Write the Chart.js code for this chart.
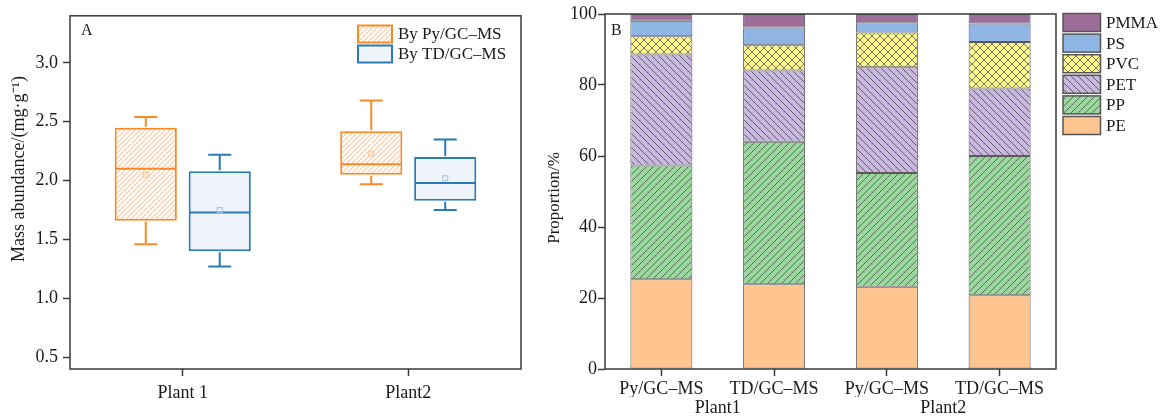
<!DOCTYPE html>
<html><head><meta charset="utf-8">
<script src="https://cdn.jsdelivr.net/npm/chart.js@4.4.1/dist/chart.umd.min.js"></script>
<style>
html,body{margin:0;padding:0;background:#fff;}
#wrap{position:relative;width:1160px;height:416px;overflow:hidden;background:#fff;}
canvas{position:absolute;top:0;}
#cA{left:0;} #cB{left:540px;}
</style></head><body>
<div id="wrap"><canvas id="cA" width="540" height="416"></canvas><canvas id="cB" width="620" height="416"></canvas></div>
<script>
// ---------- Panel A data ----------
const plants = ['Plant 1', 'Plant2'];
const methodsA = ['By Py/GC\u2013MS', 'By TD/GC\u2013MS'];
const pyMin  = [1.46, 1.97];
const pyQ1   = [1.66, 2.05];
const pyMed  = [2.10, 2.14];
const pyMean = [2.05, 2.23];
const pyQ3   = [2.45, 2.42];
const pyMax  = [2.54, 2.68];
const tdMin  = [1.27, 1.75];
const tdQ1   = [1.40, 1.83];
const tdMed  = [1.73, 1.98];
const tdMean = [1.75, 2.02];
const tdQ3   = [2.08, 2.20];
const tdMax  = [2.22, 2.35];
const yTicksA = [0.5, 1.0, 1.5, 2.0, 2.5, 3.0];
const yTitleA = 'Mass abundance/(mg\u00B7g\u207B\u00B9)';

// ---------- Panel B data ----------
const methodsB = ['Py/GC\u2013MS', 'TD/GC\u2013MS', 'Py/GC\u2013MS', 'TD/GC\u2013MS'];
const plantGroups = ['Plant1', 'Plant2'];
const polymers = ['PE', 'PP', 'PET', 'PVC', 'PS', 'PMMA'];
const PE   = [25.3, 23.9, 23.2, 20.8];
const PP   = [32.0, 40.1, 32.0, 39.2];
const PET  = [31.3, 20.1, 29.8, 19.0];
const PVC  = [5.1, 7.1, 9.8, 13.1];
const PS   = [4.4, 5.0, 2.9, 5.2];
const PMMA = [1.9, 3.8, 2.3, 2.7];
const yTicksB = [0, 20, 40, 60, 80, 100];
const yTitleB = 'Proportion/%';

const FONT = "'Liberation Serif', 'Times New Roman', serif";
Chart.defaults.font.family = FONT;
Chart.defaults.color = '#1a1a1a';
const AXIS = '#3a3a3a';
const ORANGE = '#F98B26';
const BLUE = '#2A7AB8';

function hatch(ctx, bg, line, size, dirs, lw) {
  const c = document.createElement('canvas'); c.width = size; c.height = size;
  const g = c.getContext('2d');
  g.fillStyle = bg; g.fillRect(0, 0, size, size);
  g.strokeStyle = line; g.lineWidth = lw;
  dirs.forEach(d => {
    g.beginPath();
    if (d === '/') {
      g.moveTo(-1, size + 1); g.lineTo(size + 1, -1);
      g.moveTo(-size / 2 - 1, size / 2 + 1); g.lineTo(size / 2 + 1, -size / 2 - 1);
      g.moveTo(size / 2 - 1, size * 1.5 + 1); g.lineTo(size * 1.5 + 1, size / 2 - 1);
    } else {
      g.moveTo(-1, -1); g.lineTo(size + 1, size + 1);
      g.moveTo(-size / 2 - 1, size / 2 - 1); g.lineTo(size / 2 + 1, size * 1.5 + 1);
      g.moveTo(size / 2 - 1, -size / 2 - 1); g.lineTo(size * 1.5 + 1, size / 2 + 1);
    }
    g.stroke();
  });
  return ctx.createPattern(c, 'repeat');
}

const frame = {
  id: 'frame',
  afterDraw(chart) {
    const a = chart.chartArea, ctx = chart.ctx;
    ctx.save(); ctx.strokeStyle = AXIS; ctx.lineWidth = 1.5;
    ctx.strokeRect(a.left, a.top, a.right - a.left, a.bottom - a.top);
    ctx.restore();
  }
};

function yTitle(text, size, cx, cy, letter, lx, ly) {
  return {
    id: 'ytitle',
    afterDraw(chart) {
      const ctx = chart.ctx;
      ctx.save();
      ctx.fillStyle = '#1a1a1a';
      ctx.font = size + 'px ' + FONT;
      ctx.translate(cx, cy); ctx.rotate(-Math.PI / 2);
      ctx.textAlign = 'center'; ctx.textBaseline = 'middle';
      ctx.fillText(text, 0, 0);
      ctx.restore();
      ctx.save();
      ctx.fillStyle = '#1a1a1a'; ctx.font = '16px ' + FONT;
      ctx.textAlign = 'left'; ctx.textBaseline = 'alphabetic';
      ctx.fillText(letter, lx, ly);
      ctx.restore();
    }
  };
}

// ---------- Panel A ----------
const ctxA = document.getElementById('cA').getContext('2d');
const patOrange = hatch(ctxA, '#ffffff', '#FCC9A0', 5, ['/'], 1.2);
const boxSets = [
  {min: pyMin, q1: pyQ1, med: pyMed, mean: pyMean, q3: pyQ3, max: pyMax, color: ORANGE, meanColor: '#F9C08E'},
  {min: tdMin, q1: tdQ1, med: tdMed, mean: tdMean, q3: tdQ3, max: tdMax, color: BLUE, meanColor: '#9CC4E6'}
];
const boxExtras = {
  id: 'boxExtras',
  afterDatasetsDraw(chart) {
    const ctx = chart.ctx, y = chart.scales.y;
    boxSets.forEach((s, di) => {
      const meta = chart.getDatasetMeta(di);
      meta.data.forEach((bar, i) => {
        const x = bar.x, w = bar.width, cap = 23;
        const py = v => y.getPixelForValue(v);
        ctx.save();
        ctx.strokeStyle = s.color; ctx.lineWidth = 2;
        ctx.beginPath();
        ctx.moveTo(x - w / 2 + 1, py(s.med[i])); ctx.lineTo(x + w / 2 - 1, py(s.med[i]));
        ctx.moveTo(x, py(s.q3[i]) - 1); ctx.lineTo(x, py(s.max[i]));
        ctx.moveTo(x - cap / 2, py(s.max[i])); ctx.lineTo(x + cap / 2, py(s.max[i]));
        ctx.moveTo(x, py(s.q1[i]) + 1); ctx.lineTo(x, py(s.min[i]));
        ctx.moveTo(x - cap / 2, py(s.min[i])); ctx.lineTo(x + cap / 2, py(s.min[i]));
        ctx.stroke();
        ctx.strokeStyle = s.meanColor; ctx.lineWidth = 1;
        ctx.strokeRect(x - 2.5, py(s.mean[i]) - 2.5, 5, 5);
        ctx.restore();
      });
    });
  }
};
const legendA = {
  id: 'legendA',
  afterDraw(chart) {
    const ctx = chart.ctx;
    chart.data.datasets.forEach((ds, i) => {
      const bx = 358, by = 25.5 + i * 20, bw = 34, bh = 17;
      ctx.save();
      ctx.fillStyle = ds.backgroundColor; ctx.fillRect(bx, by, bw, bh);
      ctx.strokeStyle = ds.borderColor; ctx.lineWidth = 2; ctx.strokeRect(bx, by, bw, bh);
      ctx.fillStyle = '#1a1a1a'; ctx.font = '17px ' + FONT;
      ctx.textAlign = 'left'; ctx.textBaseline = 'middle';
      ctx.fillText(ds.label, 398, by + bh / 2 + 1);
      ctx.restore();
    });
  }
};

new Chart(ctxA, {
  type: 'bar',
  data: {
    labels: plants,
    datasets: [
      {label: methodsA[0], data: plants.map((_, i) => [pyQ1[i], pyQ3[i]]), backgroundColor: patOrange, borderColor: ORANGE, borderWidth: 2, borderSkipped: false},
      {label: methodsA[1], data: plants.map((_, i) => [tdQ1[i], tdQ3[i]]), backgroundColor: '#EEF4FA', borderColor: BLUE, borderWidth: 2, borderSkipped: false}
    ]
  },
  options: {
    responsive: false, animation: false, devicePixelRatio: 1,
    categoryPercentage: 0.656, barPercentage: 0.84,
    layout: {padding: {left: 0, right: 19, top: 15, bottom: 0}},
    plugins: {legend: {display: false}, tooltip: {enabled: false}},
    scales: {
      x: {
        grid: {display: true, offset: false, drawOnChartArea: false, drawTicks: true, tickLength: 7, tickColor: AXIS, tickWidth: 1.5},
        border: {display: false},
        ticks: {font: {size: 18}, padding: 6, color: '#1a1a1a'},
        afterFit: s => { s.height = 47; }
      },
      y: {
        min: 0.4, max: 3.4,
        afterBuildTicks: s => { s.ticks = yTicksA.map(v => ({value: v})); },
        grid: {display: true, drawOnChartArea: false, drawTicks: true, tickLength: 7, tickColor: AXIS, tickWidth: 1.5},
        border: {display: false},
        ticks: {font: {size: 18}, padding: 5, color: '#1a1a1a', callback: v => Number(v).toFixed(1)},
        afterFit: s => { s.width = 70; }
      }
    }
  },
  plugins: [boxExtras, frame, legendA, yTitle(yTitleA, 18, 19, 169, 'A', 81, 35)]
});

// ---------- Panel B ----------
const ctxB = document.getElementById('cB').getContext('2d');
const fills = {
  PE: '#FFC591',
  PP: hatch(ctxB, '#9AD79C', '#5f6d60', 7, ['/'], 1),
  PET: hatch(ctxB, '#C8B8DE', '#615b6e', 7, ['\\'], 1),
  PVC: hatch(ctxB, '#FBF58F', '#6a6a50', 8, ['/', '\\'], 0.9),
  PS: '#8EB5E4',
  PMMA: '#9C6E99'
};
const seriesB = {PE, PP, PET, PVC, PS, PMMA};
const legendB = {
  id: 'legendB',
  afterDraw(chart) {
    const ctx = chart.ctx;
    const items = chart.data.datasets.slice().reverse();
    items.forEach((ds, i) => {
      const bx = 523, by = 13.5 + i * 20.6, bw = 37.5, bh = 18;
      ctx.save();
      ctx.fillStyle = ds.backgroundColor; ctx.fillRect(bx, by, bw, bh);
      ctx.strokeStyle = '#555'; ctx.lineWidth = 1.5; ctx.strokeRect(bx, by, bw, bh);
      ctx.fillStyle = '#1a1a1a'; ctx.font = '17px ' + FONT;
      ctx.textAlign = 'left'; ctx.textBaseline = 'middle';
      ctx.fillText(ds.label, 566, by + bh / 2 + 1);
      ctx.restore();
    });
  }
};

new Chart(ctxB, {
  type: 'bar',
  data: {
    labels: methodsB,
    datasets: polymers.map(p => ({
      label: p, data: seriesB[p], backgroundColor: fills[p],
      borderColor: '#5a5a5a', borderWidth: 1, borderSkipped: false
    }))
  },
  options: {
    responsive: false, animation: false, devicePixelRatio: 1,
    categoryPercentage: 1.0, barPercentage: 0.55,
    layout: {padding: {left: 0, right: 104, top: 14, bottom: 0}},
    plugins: {legend: {display: false}, tooltip: {enabled: false}},
    scales: {
      x: {
        stacked: true,
        grid: {display: true, offset: false, drawOnChartArea: false, drawTicks: true, tickLength: 7, tickColor: AXIS, tickWidth: 1.5},
        border: {display: false},
        ticks: {font: {size: 18}, padding: 2, color: '#1a1a1a', maxRotation: 0, autoSkip: false},
        afterFit: s => { s.height = 28; }
      },
      x2: {
        type: 'category', labels: plantGroups, position: 'bottom', weight: 1,
        grid: {display: false, drawTicks: false}, border: {display: false},
        ticks: {font: {size: 18}, padding: 0, color: '#1a1a1a', maxRotation: 0},
        afterFit: s => { s.height = 19; }
      },
      y: {
        stacked: true, min: 0, max: 100,
        afterBuildTicks: s => { s.ticks = yTicksB.map(v => ({value: v})); },
        grid: {display: true, drawOnChartArea: false, drawTicks: true, tickLength: 7, tickColor: AXIS, tickWidth: 1.5},
        border: {display: false},
        ticks: {font: {size: 18}, padding: 1, color: '#1a1a1a'},
        afterFit: s => { s.width = 65; }
      }
    }
  },
  plugins: [frame, legendB, yTitle(yTitleB, 17, 15, 198, 'B', 71, 35)]
});
</script>
</body></html>
